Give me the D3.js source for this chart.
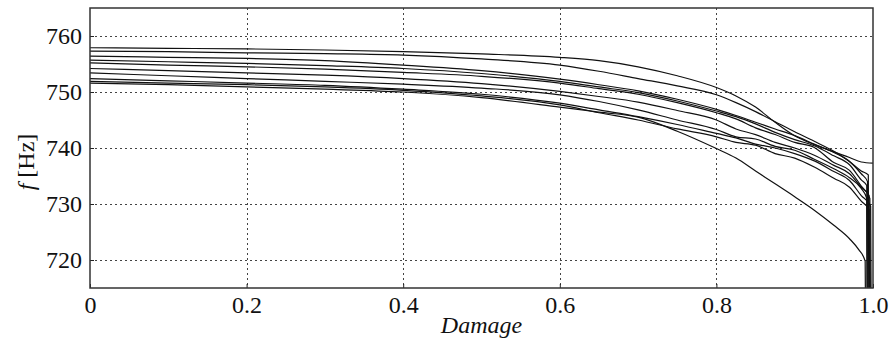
<!DOCTYPE html>
<html><head><meta charset="utf-8">
<script src="https://cdn.jsdelivr.net/npm/d3@7"></script>
<style>html,body{margin:0;padding:0;background:#fff;}svg{display:block;}</style>
</head><body>
<svg id="chart" width="889" height="341"></svg>
<script>
// ---- data ----
const damage = [0, 0.1, 0.2, 0.3, 0.4, 0.5, 0.6, 0.65, 0.7, 0.75, 0.8, 0.825, 0.85, 0.875, 0.9, 0.925, 0.95, 0.97];
const curve1  = [757.9, 757.8, 757.7, 757.5, 757.2, 756.8, 756.2, 755.6, 754.5, 752.9, 750.8, 749.3, 747.3, 744.6, 742.2, 740.6, 739.3, 738.3];
const curve2  = [757.3, 757.2, 757.0, 756.85, 756.6, 755.9, 754.8, 753.7, 752.4, 751.1, 749.5, 748.1, 746.5, 744.7, 742.9, 741.2, 739.4, 737.6];
const curve3  = [756.4, 756.2, 756.0, 755.6, 754.8, 753.8, 752.3, 751.3, 750.2, 748.7, 746.9, 745.8, 744.6, 743.4, 742.2, 740.7, 739.2, 737.6];
const curve4  = [755.7, 755.4, 755.1, 754.7, 754.2, 753.3, 751.9, 750.9, 749.9, 748.4, 746.6, 745.6, 744.3, 742.8, 741.5, 740.4, 738.6, 737.0];
const curve5  = [755.2, 754.8, 754.5, 754.1, 753.5, 752.8, 751.6, 750.6, 749.6, 748.1, 746.3, 745.2, 743.6, 742.4, 741.0, 740.1, 737.4, 736.0];
const curve6  = [754.2, 753.8, 753.4, 753.0, 752.4, 751.5, 750.1, 749.2, 748.2, 746.7, 745.0, 743.4, 742.4, 741.0, 740.0, 738.7, 736.9, 735.4];
const curve7  = [753.4, 752.9, 752.4, 751.9, 751.4, 750.7, 749.5, 748.3, 746.8, 745.0, 743.3, 742.0, 741.6, 740.3, 739.6, 738.0, 736.3, 734.7];
const curve8  = [752.4, 752.0, 751.6, 751.2, 750.5, 749.6, 748.0, 746.8, 745.6, 744.2, 742.6, 741.8, 740.7, 740.0, 739.0, 737.7, 735.8, 734.2];
const curve9  = [751.9, 751.6, 751.3, 750.9, 750.3, 749.3, 747.7, 746.3, 745.0, 743.4, 742.0, 741.0, 740.5, 739.0, 738.2, 736.6, 734.6, 733.0];
const curve10 = [751.6, 751.3, 750.9, 750.5, 750.0, 749.0, 747.3, 746.4, 745.5, 743.0, 739.9, 738.2, 735.9, 733.6, 731.3, 728.9, 726.2, 723.8];
// end of each run (damage, frequency) incl. final collapse
const tail1  = [[0.985, 737.5], [1.0, 737.3]];
const tail2  = [[0.985, 735.9], [0.994, 735.2], [0.995, 700]];
const tail3  = [[0.985, 735.4], [0.993, 734.0], [0.994, 700]];
const tail4  = [[0.985, 734.3], [0.992, 733.3], [0.993, 700]];
const tail5  = [[0.985, 733.2], [0.996, 731.0], [0.997, 700]];
const tail6  = [[0.985, 733.0], [0.995, 731.5], [0.996, 700]];
const tail7  = [[0.985, 732.8], [0.992, 731.0], [0.993, 700]];
const tail8  = [[0.985, 731.5], [0.997, 729.6], [0.998, 700]];
const tail9  = [[0.985, 730.5], [0.995, 729.0], [0.996, 700]];
const tail10 = [[0.982, 721.8], [0.990, 719.8], [0.991, 700]];
const xTicks = [0, 0.2, 0.4, 0.6, 0.8, 1.0];
const xTickLabels = ["0", "0.2", "0.4", "0.6", "0.8", "1.0"];
const yTicks = [720, 730, 740, 750, 760];

const curves = [curve1, curve2, curve3, curve4, curve5, curve6, curve7, curve8, curve9, curve10];
const tails = [tail1, tail2, tail3, tail4, tail5, tail6, tail7, tail8, tail9, tail10];

// ---- layout ----
const svg = d3.select("#chart");
const L = 90, T = 8, R = 873, B = 288;
const x = d3.scaleLinear().domain([0, 1.0]).range([L, R]);
const y = d3.scaleLinear().domain([715, 765]).range([B, T]);
const font = "Liberation Serif";
const fs = 24;

svg.append("defs").append("clipPath").attr("id", "clip")
  .append("rect").attr("x", L).attr("y", T).attr("width", R - L).attr("height", B - T);

// grid
const grid = svg.append("g").attr("stroke", "#444").attr("stroke-width", 1).attr("stroke-dasharray", "2,3");
xTicks.slice(1, -1).forEach(t => grid.append("line")
  .attr("x1", Math.round(x(t)) + 0.5).attr("x2", Math.round(x(t)) + 0.5).attr("y1", T).attr("y2", B));
yTicks.forEach(t => grid.append("line")
  .attr("y1", Math.round(y(t)) + 0.5).attr("y2", Math.round(y(t)) + 0.5).attr("x1", L).attr("x2", R));

// axes (ticks inward, labels)
const xAxis = d3.axisBottom(x).tickValues(xTicks).tickSize(-4).tickPadding(8)
  .tickFormat((d, i) => xTickLabels[i]);
const gx = svg.append("g").attr("transform", `translate(0,${B})`).call(xAxis);
const yAxis = d3.axisLeft(y).tickValues(yTicks).tickSize(-4).tickPadding(8).tickFormat(d3.format("d"));
const gy = svg.append("g").attr("transform", `translate(${L},0)`).call(yAxis);
[gx, gy].forEach(g => {
  g.attr("font-family", font).attr("font-size", fs);
  g.select(".domain").remove();
  g.selectAll("line").attr("stroke", "#222");
  g.selectAll("text").attr("font-family", font).attr("font-size", fs).attr("fill", "#111");
});
gx.selectAll("text").attr("dy", "0.71em");

// curves
const line = d3.line().x(d => x(d[0])).y(d => y(d[1])).curve(d3.curveMonotoneX);
const gl = svg.append("g").attr("clip-path", "url(#clip)");
curves.forEach((c, i) => {
  const pts = damage.map((d, j) => [d, c[j]]).concat(tails[i]);
  gl.append("path").attr("d", line(pts)).attr("fill", "none")
    .attr("stroke", "#111").attr("stroke-width", 1.2);
});

// frame
svg.append("rect").attr("x", L).attr("y", T).attr("width", R - L).attr("height", B - T)
  .attr("fill", "none").attr("stroke", "#333").attr("stroke-width", 1.5);

// labels
svg.append("text").attr("x", (L + R) / 2).attr("y", 333).attr("text-anchor", "middle")
  .attr("font-family", font).attr("font-size", fs).attr("font-style", "italic").attr("fill", "#111")
  .text("Damage");
const yl = svg.append("text").attr("transform", "translate(34,162) rotate(-90)").attr("text-anchor", "middle")
  .attr("font-family", font).attr("font-size", fs).attr("fill", "#111");
yl.append("tspan").attr("font-style", "italic").text("f");
yl.append("tspan").text(" [Hz]");
</script>
</body></html>
